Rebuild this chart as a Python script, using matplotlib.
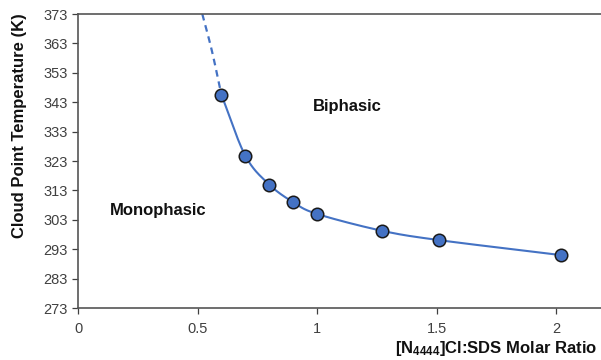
import matplotlib.pyplot as plt
import numpy as np

plt.rcParams['font.family'] = ['Liberation Sans', 'DejaVu Sans']
plt.rcParams['mathtext.fontset'] = 'custom'
plt.rcParams['mathtext.it'] = 'Liberation Sans:italic:bold'
plt.rcParams['mathtext.rm'] = 'Liberation Sans:bold'

# measured cloud points
ratio = [0.60, 0.70, 0.80, 0.90, 1.00, 1.27, 1.51, 2.02]
temp_k = [345.5, 324.8, 315.0, 309.0, 305.0, 299.3, 296.1, 291.0]

# extrapolated part of the trend (dashed)
extrap_ratio = [0.52, 0.56, 0.60]
extrap_temp = [373.0, 360.5, 345.5]

y_ticks = [273, 283, 293, 303, 313, 323, 333, 343, 353, 363, 373]
x_ticks = [0, 0.5, 1, 1.5, 2]
x_tick_labels = ['0', '0.5', '1', '1.5', '2']

blue = '#4472C4'
grey = '#404040'


def smooth(x, y, n=30):
    # Catmull-Rom style smoothing like the spreadsheet "smoothed line"
    x = np.asarray(x, float)
    y = np.asarray(y, float)
    px = np.concatenate([[2 * x[0] - x[1]], x, [2 * x[-1] - x[-2]]])
    py = np.concatenate([[2 * y[0] - y[1]], y, [2 * y[-1] - y[-2]]])
    xs, ys = [], []
    t = np.linspace(0, 1, n)
    for i in range(1, len(px) - 2):
        for arr, out in ((px, xs), (py, ys)):
            p0, p1, p2, p3 = arr[i - 1:i + 3]
            out.extend(0.5 * ((2 * p1) + (-p0 + p2) * t
                              + (2 * p0 - 5 * p1 + 4 * p2 - p3) * t ** 2
                              + (-p0 + 3 * p1 - 3 * p2 + p3) * t ** 3))
    return xs, ys


fig = plt.figure(figsize=(6.01, 3.6), dpi=100)
ax = fig.add_axes([0.1298, 0.1444, 0.8702, 0.8167])

ex, ey = smooth(extrap_ratio, extrap_temp)
ax.plot(ex, ey, color=blue, lw=1.6, ls=(0, (3, 2.2)), zorder=2)
sx, sy = smooth(ratio, temp_k)
ax.plot(sx, sy, color=blue, lw=1.5, zorder=2)
ax.plot(ratio, temp_k, 'o', ms=9, mfc=blue, mec='#1a1a1a', mew=1.1, zorder=3,
        clip_on=False)

ax.set_xlim(0, 2.188)
ax.set_ylim(273, 373)
ax.set_yticks(y_ticks)
ax.set_xticks(x_ticks)
ax.set_xticklabels(x_tick_labels)
ax.tick_params(colors=grey, labelsize=10.5, length=4, width=0.9, direction='out')
ax.tick_params(axis='x', pad=6)

for side in ('left', 'bottom', 'top'):
    ax.spines[side].set_color('#555555')
    ax.spines[side].set_linewidth(1.2)
ax.spines['right'].set_visible(False)

ax.set_ylabel('Cloud Point Temperature (K)', fontsize=12, fontweight='bold',
              color='#111111')
ax.yaxis.set_label_coords(-0.097, 0.619)
fig.text(0.994, 0.033, r'[N$_{\mathit{4444}}$]Cl:SDS Molar Ratio', ha='right',
         va='center', fontsize=12, fontweight='bold', color='#111111')

ax.text(0.134, 306.3, 'Monophasic', fontsize=12, fontweight='bold',
        color='#111111', va='center')
ax.text(0.983, 341.4, 'Biphasic', fontsize=12, fontweight='bold',
        color='#111111', va='center')

fig.savefig('out.png', dpi=100)
